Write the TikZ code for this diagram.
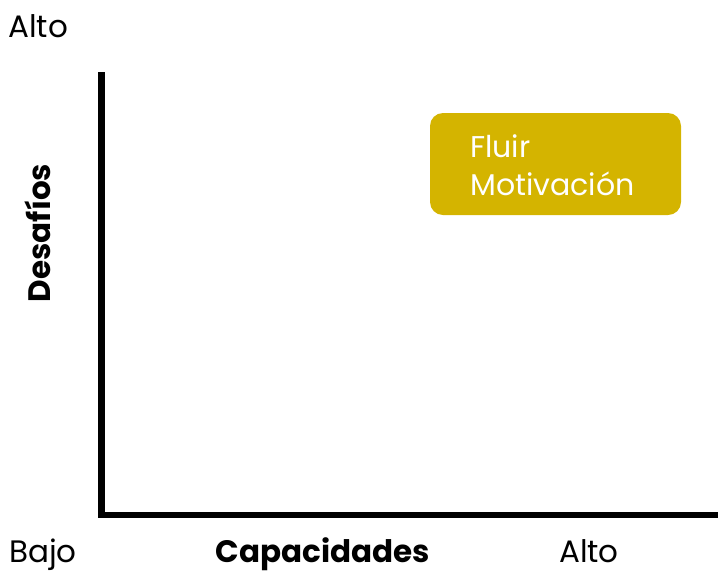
\documentclass[tikz,border=0pt]{standalone}
\usepackage{fontspec}
\setmainfont{Poppins}
\definecolor{flowgold}{RGB}{212,180,0}
\begin{document}
\begin{tikzpicture}[x=1pt,y=-1pt,
  lbl/.style={inner sep=0pt,font=\fontsize{31}{36}\selectfont},
  blbl/.style={inner sep=0pt,font=\fontsize{31}{36}\selectfont\bfseries},
  boxtxt/.style={inner sep=0pt,text=white,font=\fontsize{30}{35}\selectfont},
  axis/.style={line width=6.5pt,line join=miter,line cap=butt},
  zone/.style={fill=flowgold,rounded corners=13pt}]
\useasboundingbox (0,0) rectangle (718,574);
\coordinate (ytop) at (101.5,72);
\coordinate (orig) at (101.5,515);
\coordinate (xend) at (718,515);
\draw[axis] (ytop) -- (orig) -- (xend);
\node[lbl,anchor=base west] (altoy) at (8,37) {Alto};
\node[lbl,anchor=base west] (bajo) at (9,562) {Bajo};
\node[blbl,anchor=base] (cap) at (323,562) {Capacidades};
\node[lbl,anchor=base] (altox) at (589,562) {Alto};
\node[blbl,anchor=base,rotate=90] (des) at (50,233) {Desafíos};
\path[zone] (430,113) rectangle (681,215);
\node[boxtxt,anchor=base west] (fluir) at (470,157) {Fluir};
\node[boxtxt,anchor=base west] (motiv) at (470,195) {Motivación};
\end{tikzpicture}
\end{document}
